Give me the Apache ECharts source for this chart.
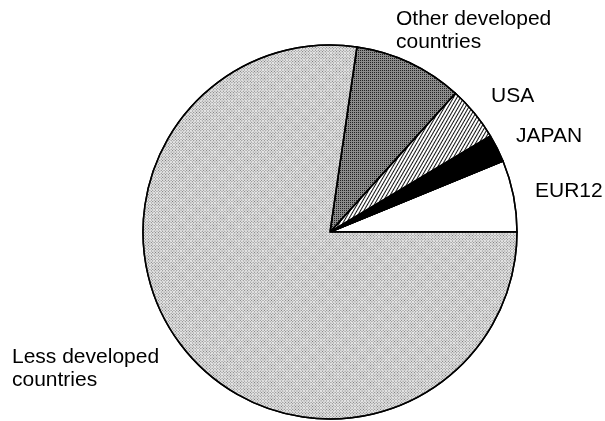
<!DOCTYPE html>
<html>
<head>
<meta charset="utf-8">
<script src="https://cdn.jsdelivr.net/npm/echarts@6/dist/echarts.min.js"></script>
<style>
html,body{margin:0;padding:0;background:#fff;}
#chart{width:605px;height:421px;}
</style>
</head>
<body>
<div id="chart"></div>
<script>
// Data (shares, percent)
const categories = ['EUR12', 'JAPAN', 'USA', 'Other developed\ncountries', 'Less developed\ncountries'];
const shares = [6.2, 2.4, 4.7, 9.4, 77.3];

// Styling (kept separate from data)
const fills = ['#ffffff', '#000000', '#ffffff', '#8c8c8c', '#e6e6e6'];
const decals = [
  { symbol: 'none' },
  { symbol: 'none' },
  { symbol: 'rect', symbolSize: 1, dashArrayX: [1, 0], dashArrayY: [1, 2], rotation: -Math.PI / 3, color: '#111' },
  { symbol: 'rect', symbolSize: 1, dashArrayX: [1, 1], dashArrayY: [1, 1], color: '#222' },
  { symbol: 'rect', symbolSize: 1, dashArrayX: [1, 1], dashArrayY: [1, 1], color: '#777' }
];
const labelSpots = [
  { x: 535, y: 191 },
  { x: 516, y: 136 },
  { x: 491, y: 96 },
  { x: 396, y: 31 },
  { x: 12, y: 369 }
];

const chart = echarts.init(document.getElementById('chart'), null, { renderer: 'canvas' });
chart.setOption({
  animation: false,
  aria: { enabled: true, decal: { show: true } },
  series: [{
    type: 'pie',
    center: [330, 232],
    radius: [0, 187],
    startAngle: 0,
    clockwise: false,
    avoidLabelOverlap: false,
    itemStyle: { borderColor: '#000', borderWidth: 1.5 },
    label: {
      show: true,
      position: 'outside',
      color: '#000',
      fontFamily: 'Liberation Sans, Arial, sans-serif',
      fontSize: 21,
      lineHeight: 23,
      formatter: p => p.name
    },
    labelLine: { show: false },
    labelLayout: function (params) {
      const s = labelSpots[params.dataIndex];
      return { x: s.x, y: s.y, align: 'left', verticalAlign: 'middle', hideOverlap: false };
    },
    emphasis: { disabled: true },
    data: categories.map((c, i) => ({
      name: c,
      value: shares[i],
      itemStyle: { color: fills[i], decal: decals[i] }
    }))
  }]
});
</script>
</body>
</html>
